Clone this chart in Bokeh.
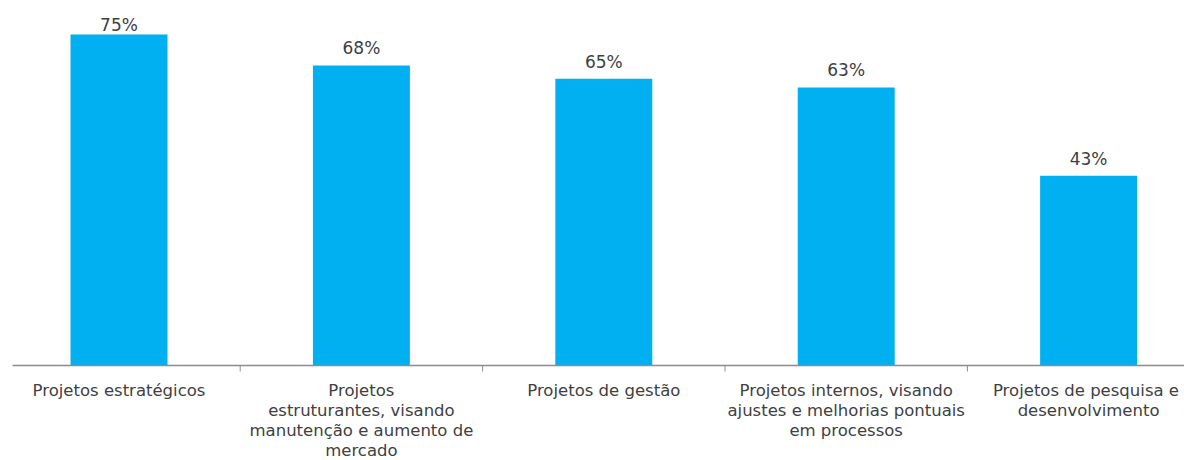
from bokeh.plotting import figure
from bokeh.models import Range1d, ColumnDataSource
from bokeh.embed import file_html
from bokeh.resources import INLINE
from bokeh.core.properties import value

categories = [
    "Projetos estratégicos",
    "Projetos\nestruturantes, visando\nmanutenção e aumento de\nmercado",
    "Projetos de gestão",
    "Projetos internos, visando\najustes e melhorias pontuais\nem processos",
    "Projetos de pesquisa  e\ndesenvolvimento",
]
values = [75, 68, 65, 63, 43]
value_labels = ["75%", "68%", "65%", "63%", "43%"]

W, H = 1184, 460
PPU = 4.413          # pixels per percentage point
CAT_PX = 242.4       # pixels per category
base_px = 365        # baseline position from top
first_center_px = 118.5

x_start = -first_center_px / CAT_PX
x_end = x_start + W / CAT_PX
y_end = base_px / PPU
y_start = -(H - base_px) / PPU

p = figure(width=W, height=H, output_backend="svg", toolbar_location=None,
           x_range=Range1d(x_start, x_end), y_range=Range1d(y_start, y_end),
           min_border=0, outline_line_color=None)
p.xaxis.visible = False
p.yaxis.visible = False
p.grid.visible = False
p.background_fill_color = "white"
p.border_fill_color = "white"

xs = list(range(len(categories)))
src = ColumnDataSource(dict(x=xs, top=values, cat=categories, lab=value_labels,
                            ly=[min(v + 17 / PPU, (base_px - 24) / PPU) for v in values]))

p.vbar(x="x", top="top", bottom=0, width=0.40, source=src,
       fill_color="#00B0F0", line_color=None)

# baseline axis line and category separators
p.segment(x0=[x_start + 12 / CAT_PX], y0=[0], x1=[x_end], y1=[0],
          line_color="#8c8c8c", line_width=1.5)
seps = [i + 0.5 for i in xs[:-1]]
p.segment(x0=seps, y0=[0] * len(seps), x1=seps, y1=[-6 / PPU] * len(seps),
          line_color="#8c8c8c", line_width=1)

# value labels
p.text(x="x", y="ly", text="lab", source=src, text_align="center",
       text_baseline="alphabetic", text_font=value("DejaVu Sans"),
       text_font_size="17px", text_color="#404040")

# category labels
p.text(x="x", y=-(380 - base_px) / PPU, text="cat", source=src, text_align="center",
       text_baseline="top", text_font=value("DejaVu Sans"),
       text_font_size="16.5px", text_color="#404040", text_line_height=1.06)

open("out.html", "w").write(file_html(p, INLINE))
